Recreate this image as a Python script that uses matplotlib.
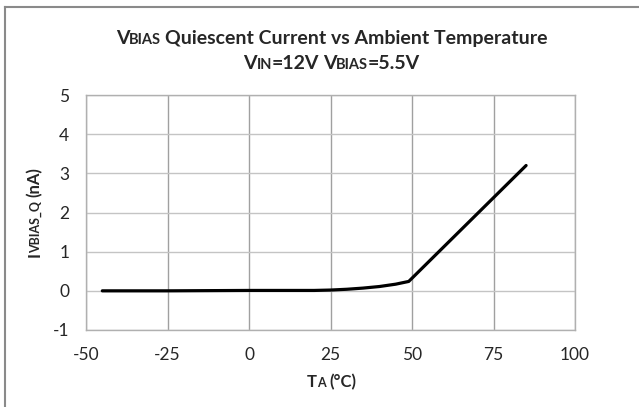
import matplotlib
matplotlib.use("Agg")
import matplotlib.pyplot as plt
from matplotlib.transforms import offset_copy
from matplotlib.lines import Line2D

# values
temp_c = [-45, -25, 0, 20, 25, 30, 35, 40, 45, 49, 85]
i_vbias_q_na = [0.0, 0.0, 0.01, 0.01, 0.02, 0.04, 0.07, 0.11, 0.17, 0.24, 3.2]
x_ticks = [-50, -25, 0, 25, 50, 75, 100]
y_ticks = [-1, 0, 1, 2, 3, 4, 5]

plt.rcParams['font.family'] = ['Lato', 'DejaVu Sans']
plt.rcParams['axes.unicode_minus'] = False
TXT = '#262626'

fig = plt.figure(figsize=(6.39, 4.07), dpi=100)
ax = fig.add_axes([86 / 639, 1 - 330 / 407, 489 / 639, 235 / 407])

ax.plot(temp_c, i_vbias_q_na, color='black', linewidth=2.3, solid_capstyle='round', solid_joinstyle='round', zorder=3)

ax.set_xlim(-50, 100)
ax.set_ylim(-1, 5)
ax.set_xticks(x_ticks)
ax.set_yticks(y_ticks)
ax.tick_params(length=0, labelsize=12.5, labelcolor=TXT)
ax.tick_params(axis='x', pad=12)
ax.tick_params(axis='y', pad=12)
ax.xaxis.grid(True, color='#a0a0a0', linewidth=1)
ax.yaxis.grid(True, color='#c4c4c4', linewidth=1)
ax.set_axisbelow(True)
for s in ax.spines.values():
    s.set_color('#b0b0b0')
    s.set_linewidth(1)


def runs(parts, x, y, rotation=0, weight='bold', base_gap=-0.5):
    # pieces of mixed sizes placed one after another by their extents, centred at (x, y)
    renderer = fig.canvas.get_renderer()
    k = 1 if rotation else 0
    a0 = fig.transFigure.transform((x, y))[k]
    texts, pos, first, last = [], 0.0, None, None
    for s, size in parts:
        n_sp = len(s) - len(s.lstrip(' '))
        gap = base_gap + n_sp * 0.25 * size * fig.dpi / 72
        if texts:
            pos = last - a0 + gap
        off = dict(x=0, y=pos) if rotation else dict(x=pos, y=0)
        t = fig.text(x, y, s.lstrip(' '), fontsize=size, fontweight=weight, color=TXT,
                     ha='left', va='baseline', rotation=rotation, rotation_mode='anchor',
                     transform=offset_copy(fig.transFigure, fig, units='dots', **off))
        bb = t.get_window_extent(renderer)
        lo, hi = (bb.y0, bb.y1) if rotation else (bb.x0, bb.x1)
        if first is None:
            first = lo
        last = hi
        texts.append((t, pos))
    shift = -((first + last) / 2 - a0)
    for t, p in texts:
        off = dict(x=0, y=p + shift) if rotation else dict(x=p + shift, y=0)
        t.set_transform(offset_copy(fig.transFigure, fig, units='dots', **off))


big, small = 14, 10.5
runs([('V', big), ('BIAS', small), (' Quiescent Current vs Ambient Temperature', big)], 0.519, 1 - 44 / 407)
runs([('V', big), ('IN', small), ('=12V', big), (' V', big), ('BIAS', small), ('=5.5V', big)], 0.519, 1 - 69 / 407)
runs([('T', 12), ('A', 9), (' (°C)', 12)], 0.519, 1 - 387 / 407)
runs([('I', 12), ('VBIAS_Q', 9), (' (nA)', 12)], 40 / 639, 1 - 212 / 407, rotation=90, base_gap=-1)

# outer chart frame (left and top edges visible)
fig.add_artist(Line2D([5 / 639, 5 / 639], [0, 1 - 7 / 407], transform=fig.transFigure, color='#8a8a8a', linewidth=1.5))
fig.add_artist(Line2D([5 / 639, 1], [1 - 7 / 407, 1 - 7 / 407], transform=fig.transFigure, color='#8a8a8a', linewidth=1.5))

fig.savefig('out.png', dpi=100)
